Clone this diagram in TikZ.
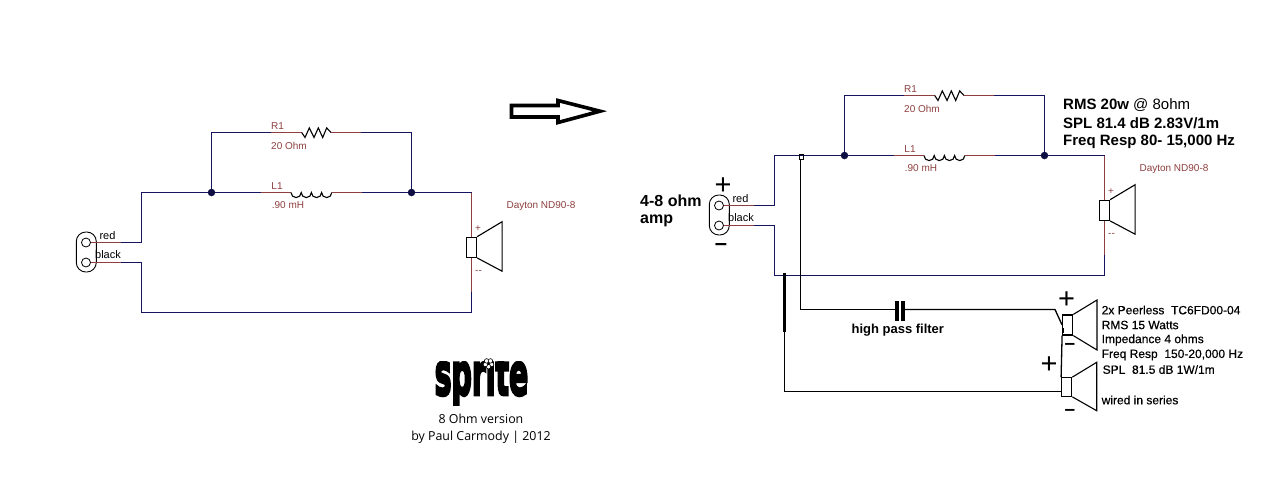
\documentclass[tikz,border=0pt]{standalone}
\usepackage{fontspec}
\setmainfont{Liberation Sans}
\newfontfamily\semifont{Liberation Sans}[RawFeature={embolden=0.5}]
\newfontfamily\creditfont{Open Sans}
\newfontfamily\logofont{DejaVu Sans Bold}[RawFeature={embolden=5}]
\usetikzlibrary{calc}
\definecolor{wireblue}{HTML}{14145F}
\definecolor{leadbrown}{HTML}{8E3F3F}
\tikzset{
  wire/.style={wireblue,line width=1.3pt},
  lead/.style={leadbrown,line width=1.2pt},
  part/.style={black,line width=1.1pt},
  ink/.style={black,line width=1.3pt},
  junction/.style={circle,fill=wireblue!70!black,inner sep=0pt,minimum size=7.5pt},
  spkbox/.style={draw,black,line width=1.2pt,inner sep=0pt,minimum width=10pt,minimum height=20pt},
  terminal/.style={circle,draw,black,line width=0.8pt,inner sep=0pt,minimum size=9pt},
  plug/.style={draw,black,line width=0.9pt,inner sep=0pt,minimum width=20pt,minimum height=40pt,rounded corners=9.5pt},
  partlabel/.style={text=leadbrown,inner sep=0pt,font=\fontsize{10}{12}\selectfont},
  plabel/.style={text=black,inner sep=0pt,font=\fontsize{11}{13}\selectfont},
  boldlabel/.style={text=black,inner sep=0pt,anchor=west,font=\bfseries\fontsize{15}{17}\selectfont},
  spec/.style={text=black,inner sep=0pt,anchor=west,font=\semifont\fontsize{12}{14}\selectfont},
  signmark/.style={text=black,inner sep=0pt,font=\fontsize{29}{31}\selectfont},
  credit/.style={text=black,inner sep=0pt,font=\creditfont\fontsize{12.4}{15}\selectfont},
  petal/.style={circle,draw,black,fill=white,line width=0.6pt,inner sep=0pt,minimum size=4.5pt}
}
\begin{document}
\begin{tikzpicture}[x=1pt,y=-1pt]
    \useasboundingbox (0,0) rectangle (1270,499);

    % same network twice
    \foreach \dx/\dy/\net in {0/0/a,633/-37/b} {
    \begin{scope}[shift={(\dx,\dy)},name prefix=\net-]
    \node[plug] (plug) at (86.3,252) {};
    \node[terminal] (tp) at (86,242.5) {};
    \node[terminal] (tn) at (86,262.5) {};
    \coordinate (rp) at (121,242.5);
    \coordinate (rn) at (121,262.5);
    \coordinate (ctop) at (141.5,192.5);
    \coordinate (cbot) at (141.5,312.5);
    \node[junction] (j1) at (211.5,192.5) {};
    \node[junction] (j2) at (411.5,192.5) {};
    \coordinate (rl) at (271,132.5);
    \coordinate (ra) at (301.7,132.5);
    \coordinate (rb) at (331,132.5);
    \coordinate (rr) at (361,132.5);
    \coordinate (ll) at (261,192.5);
    \coordinate (la) at (291,192.5);
    \coordinate (lb) at (332,192.5);
    \coordinate (lr) at (362,192.5);
    \coordinate (sp) at (471.5,192.5);
    \coordinate (sq) at (471.5,292);
    \coordinate (sb) at (471.5,312.5);
    \node[spkbox] (spk) at (471.5,247.3) {};

    \draw[lead] (tp) -- (rp);
    \draw[lead] (tn) -- (rn);
    \draw[wire] (rp) -| (ctop) -- (j1) -- (ll);
    \draw[wire] (rn) -| (cbot) -- (sb) -- (sq);
    \draw[wire] (j1) |- (rl);
    \draw[lead] (rl) -- (ra);
    \draw[part] (ra) -- ++(3.3,5) -- ++(4.3,-9.6) -- ++(4.7,9.6) -- ++(4.3,-9.6) -- ++(4.4,9.6) -- ++(4,-9.6) -- (rb);
    \draw[lead] (rb) -- (rr);
    \draw[wire] (rr) -| (j2);
    \draw[lead] (ll) -- (la);
    \draw[part] (la) arc (180:0:5.1) arc (180:0:5.1) arc (180:0:5.1) arc (180:0:5.1);
    \draw[lead] (lb) -- (lr);
    \draw[wire] (lr) -- (j2) -- (sp);
    \draw[lead] (sp) -- (spk.north);
    \draw[lead] (spk.south) -- (sq);
    \draw[part] (spk.north east) -- ++(25,-15) -- ++(0,49.5) -- (spk.south east);

    \node[partlabel] (r1name) at (277.5,126) {R1};
    \node[partlabel] (r1val) at (289,145.5) {20 Ohm};
    \node[partlabel] (l1name) at (277,186) {L1};
    \node[partlabel] (l1val) at (288,205.5) {.90 mH};
    \node[plabel] (redname) at (107.5,235.5) {red};
    \node[plabel] (blackname) at (108,255) {black};
    \node[partlabel] (spkname) at (541,206) {Dayton ND90-8};
    \node[partlabel] (spkplus) at (478,229) {+};
    \node[partlabel] (spkminus) at (478.5,272) {-{}-};
    \end{scope}
    }

    % big arrow between the two versions
    \draw[line width=3.6pt,line join=miter] (511.5,105.5) -- (558,105.5) -- (558,100.5) -- (600,111.2) -- (558,122.5) -- (558,117) -- (511.5,117) -- cycle;

    % logo, top of the letters cut flat
    \begin{scope}
    \clip (425,361.5) rectangle (540,405);
    \node[inner sep=0pt,anchor=base] (logo) at (481.5,395) {\scalebox{0.48}[1]{\logofont\fontsize{59}{61}\selectfont sprite}};
    \end{scope}
    \foreach \a in {18,90,162,234,306} {
      \node[petal] (petal\a) at ($(488.5,363.5)+(\a:3.2)$) {};
    }

    \node[credit] (ver) at (481,419) {8 Ohm version};
    \node[credit] (auth) at (481,437) {by Paul Carmody | 2012};

    \node[boldlabel,font=\bfseries\fontsize{16}{18}\selectfont] (ampa) at (640,200.5) {4-8 ohm};
    \node[boldlabel,font=\bfseries\fontsize{16}{18}\selectfont] (ampb) at (640,221) {amp};
    \node[signmark] (ampplus) at (723,186.5) {+};
    \node[signmark,font=\bfseries\fontsize{22}{24}\selectfont] (ampminus) at (721,246.5) {–};

    \node[boldlabel] (ra1) at (1063,105.5) {RMS 20w {\mdseries @ 8ohm}};
    \node[boldlabel] (ra2) at (1063,123) {SPL 81.4 dB 2.83V/1m};
    \node[boldlabel] (ra3) at (1063,141.5) {Freq Resp 80- 15,000 Hz};

    % added tweeters
    \node[draw,black,line width=1pt,inner sep=0pt,minimum width=3.5pt,minimum height=5pt] (tap) at (801.7,157) {};
    \coordinate (tapv) at (800.5,159.5);
    \coordinate (tapb) at (784.5,273);
    \coordinate (capl) at (896.7,309.5);
    \coordinate (capr) at (902.3,309.5);
    \coordinate (bend) at (1055,309.5);
    \coordinate (thick) at (784.5,332);
    \coordinate (low) at (784.5,391.5);
    \coordinate (lowend) at (1061.7,391.5);
    \node[spkbox] (upper) at (1067.7,325) {};
    \node[spkbox,minimum height=18.5pt] (lower) at (1066.7,387) {};

    \draw[ink] (tapv) |- (capl);
    \draw[line width=3.6pt] (896.7,301) -- (896.7,321) (903,301) -- (903,321);
    \draw[ink] (capr) -- (bend) -- (upper.west);
    \draw[line width=3pt] (tapb) -- (thick);
    \draw[ink] (thick) -- (low) -- (lowend);
    \draw[ink] (upper.south west) -- (lower.north west);
    \draw[line width=2pt] (1063.3,328) -- (1063.3,333);
    \draw[part] (upper.north east) -- (1097,300) -- (1097,350) -- (upper.south east);
    \draw[part] (lower.north east) -- (1096.7,362.3) -- (1096.7,410.7) -- (lower.south east);

    \node[boldlabel,font=\bfseries\fontsize{13}{15}\selectfont,anchor=center] (hpf) at (897.8,330.5) {high pass filter};
    \node[signmark] (upplus) at (1066.5,300.5) {+};
    \node[signmark,font=\bfseries\fontsize{19}{21}\selectfont] (upminus) at (1070,346.5) {–};
    \node[signmark] (lowplus) at (1049,365.5) {+};
    \node[signmark,font=\bfseries\fontsize{19}{21}\selectfont] (lowminus) at (1070,412.5) {–};

    \node[spec] (s1) at (1101.5,310) {2x Peerless~ TC6FD00-04};
    \node[spec] (s2) at (1101.5,325) {RMS 15 Watts};
    \node[spec] (s3) at (1101.5,340) {Impedance 4 ohms};
    \node[spec] (s4) at (1101.5,355) {Freq Resp~ 150-20,000 Hz};
    \node[spec] (s5) at (1102.5,369.5) {SPL~ 81.5 dB 1W/1m};
    \node[spec] (s6) at (1101.5,400) {wired in series};
\end{tikzpicture}
\end{document}
